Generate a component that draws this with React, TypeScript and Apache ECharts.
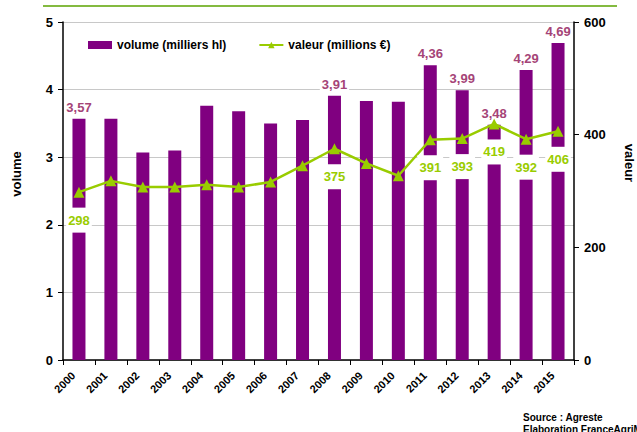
import React, { useEffect, useRef } from "react";
import * as echarts from "echarts";

const years = ["2000","2001","2002","2003","2004","2005","2006","2007","2008","2009","2010","2011","2012","2013","2014","2015"];
const volume = [3.57, 3.57, 3.07, 3.10, 3.76, 3.68, 3.50, 3.55, 3.91, 3.83, 3.82, 4.36, 3.99, 3.48, 4.29, 4.69];
const valeur = [298, 318, 307, 307, 311, 307, 316, 345, 375, 349, 327, 391, 393, 419, 392, 406];
const labelledYears = ["2000", "2008", "2011", "2012", "2013", "2014", "2015"];
const leftTicks = { min: 0, max: 5, interval: 1 };
const rightTicks = { min: 0, max: 600, interval: 200 };

const FONT = "'Liberation Sans', Arial, sans-serif";
const PURPLE = "#800080";
const GREEN = "#99CC00";
const LABEL_PINK = "#A54477";

export default function App() {
  const ref = useRef<HTMLDivElement>(null);
  useEffect(() => {
    if (!ref.current) return;
    const chart = echarts.init(ref.current, null, { renderer: "svg" });
    const barData = volume.map((v, i) => ({
      value: v,
      label: { show: labelledYears.includes(years[i]) },
    }));
    const lineData = valeur.map((v, i) => ({
      value: v,
      label: { show: labelledYears.includes(years[i]) },
    }));
    chart.setOption({
      animation: false,
      textStyle: { fontFamily: FONT },
      grid: { left: 63, right: 63, top: 22, bottom: 72, containLabel: false },
      legend: {
        left: 83,
        top: 34,
        itemWidth: 24,
        itemHeight: 8,
        itemGap: 32,
        textStyle: { fontFamily: FONT, fontWeight: "bold", fontSize: 12, color: "#000" },
        data: [
          { name: "volume (milliers hl)", icon: "rect" },
          { name: "valeur (millions €)" },
        ],
      },
      xAxis: {
        type: "category",
        data: years,
        boundaryGap: true,
        axisLine: { lineStyle: { color: "#000", width: 1.5 } },
        axisTick: { show: true, interval: 0, length: 5, lineStyle: { color: "#000" } },
        axisLabel: {
          interval: 0,
          rotate: 45,
          fontSize: 11,
          fontWeight: "bold",
          color: "#000",
          fontFamily: FONT,
          margin: 8,
          padding: [0, 8, 0, 0],
        },
      },
      yAxis: [
        {
          type: "value",
          ...leftTicks,
          axisLine: { show: true, lineStyle: { color: "#000", width: 1.5 } },
          axisTick: { show: true, length: 5, lineStyle: { color: "#000" } },
          axisLabel: { fontSize: 13, fontWeight: "bold", color: "#000", fontFamily: FONT, margin: 10 },
          splitLine: { show: true, lineStyle: { color: "#c8c8c8", width: 1 } },
        },
        {
          type: "value",
          position: "right",
          ...rightTicks,
          axisLine: { show: true, lineStyle: { color: "#000", width: 1.5 } },
          axisTick: { show: true, length: 5, lineStyle: { color: "#000" } },
          axisLabel: { fontSize: 13, fontWeight: "bold", color: "#000", fontFamily: FONT, margin: 10 },
          splitLine: { show: false },
        },
      ],
      series: [
        {
          name: "volume (milliers hl)",
          type: "bar",
          yAxisIndex: 0,
          barWidth: 13,
          itemStyle: { color: PURPLE },
          data: barData,
          label: {
            position: "top",
            distance: 4,
            color: LABEL_PINK,
            fontSize: 13,
            fontWeight: "bold",
            fontFamily: FONT,
            backgroundColor: "#fff",
            padding: [1, 2],
            formatter: (p: any) => Number(p.value).toFixed(2).replace(".", ","),
          },
          z: 2,
        },
        {
          name: "valeur (millions €)",
          type: "line",
          yAxisIndex: 1,
          symbol: "triangle",
          symbolSize: 11,
          lineStyle: { color: GREEN, width: 2.5 },
          itemStyle: { color: GREEN },
          data: lineData,
          label: {
            position: "bottom",
            distance: 10,
            color: GREEN,
            fontSize: 13,
            fontWeight: "bold",
            fontFamily: FONT,
            backgroundColor: "#fff",
            padding: [6, 2],
          },
          z: 3,
        },
      ],
      graphic: [
        {
          type: "line",
          shape: { x1: 43, y1: 6, x2: 617, y2: 6 },
          style: { stroke: "#5BA300", lineWidth: 1.5 },
        },
        {
          type: "text",
          x: 16,
          y: 174,
          rotation: Math.PI / 2,
          style: {
            text: "volume",
            fontSize: 13,
            fontWeight: "bold",
            fontFamily: FONT,
            fill: "#000",
            textAlign: "center",
            textVerticalAlign: "middle",
          },
        },
        {
          type: "text",
          x: 629,
          y: 163,
          rotation: -Math.PI / 2,
          style: {
            text: "valeur",
            fontSize: 13,
            fontWeight: "bold",
            fontFamily: FONT,
            fill: "#000",
            textAlign: "center",
            textVerticalAlign: "middle",
          },
        },
        {
          type: "text",
          x: 523,
          y: 417,
          style: {
            text: "Source : Agreste",
            fontSize: 10,
            fontWeight: "bold",
            fontFamily: FONT,
            fill: "#000",
            textVerticalAlign: "middle",
          },
        },
        {
          type: "text",
          x: 523,
          y: 429,
          style: {
            text: "Elaboration FranceAgriMer",
            fontSize: 10,
            fontWeight: "bold",
            fontFamily: FONT,
            fill: "#000",
            textVerticalAlign: "middle",
          },
        },
      ],
    });
    return () => chart.dispose();
  }, []);
  return (
    <div
      ref={ref}
      style={{ position: "absolute", left: 0, top: 0, width: 637, height: 432, background: "#fff" }}
    />
  );
}
